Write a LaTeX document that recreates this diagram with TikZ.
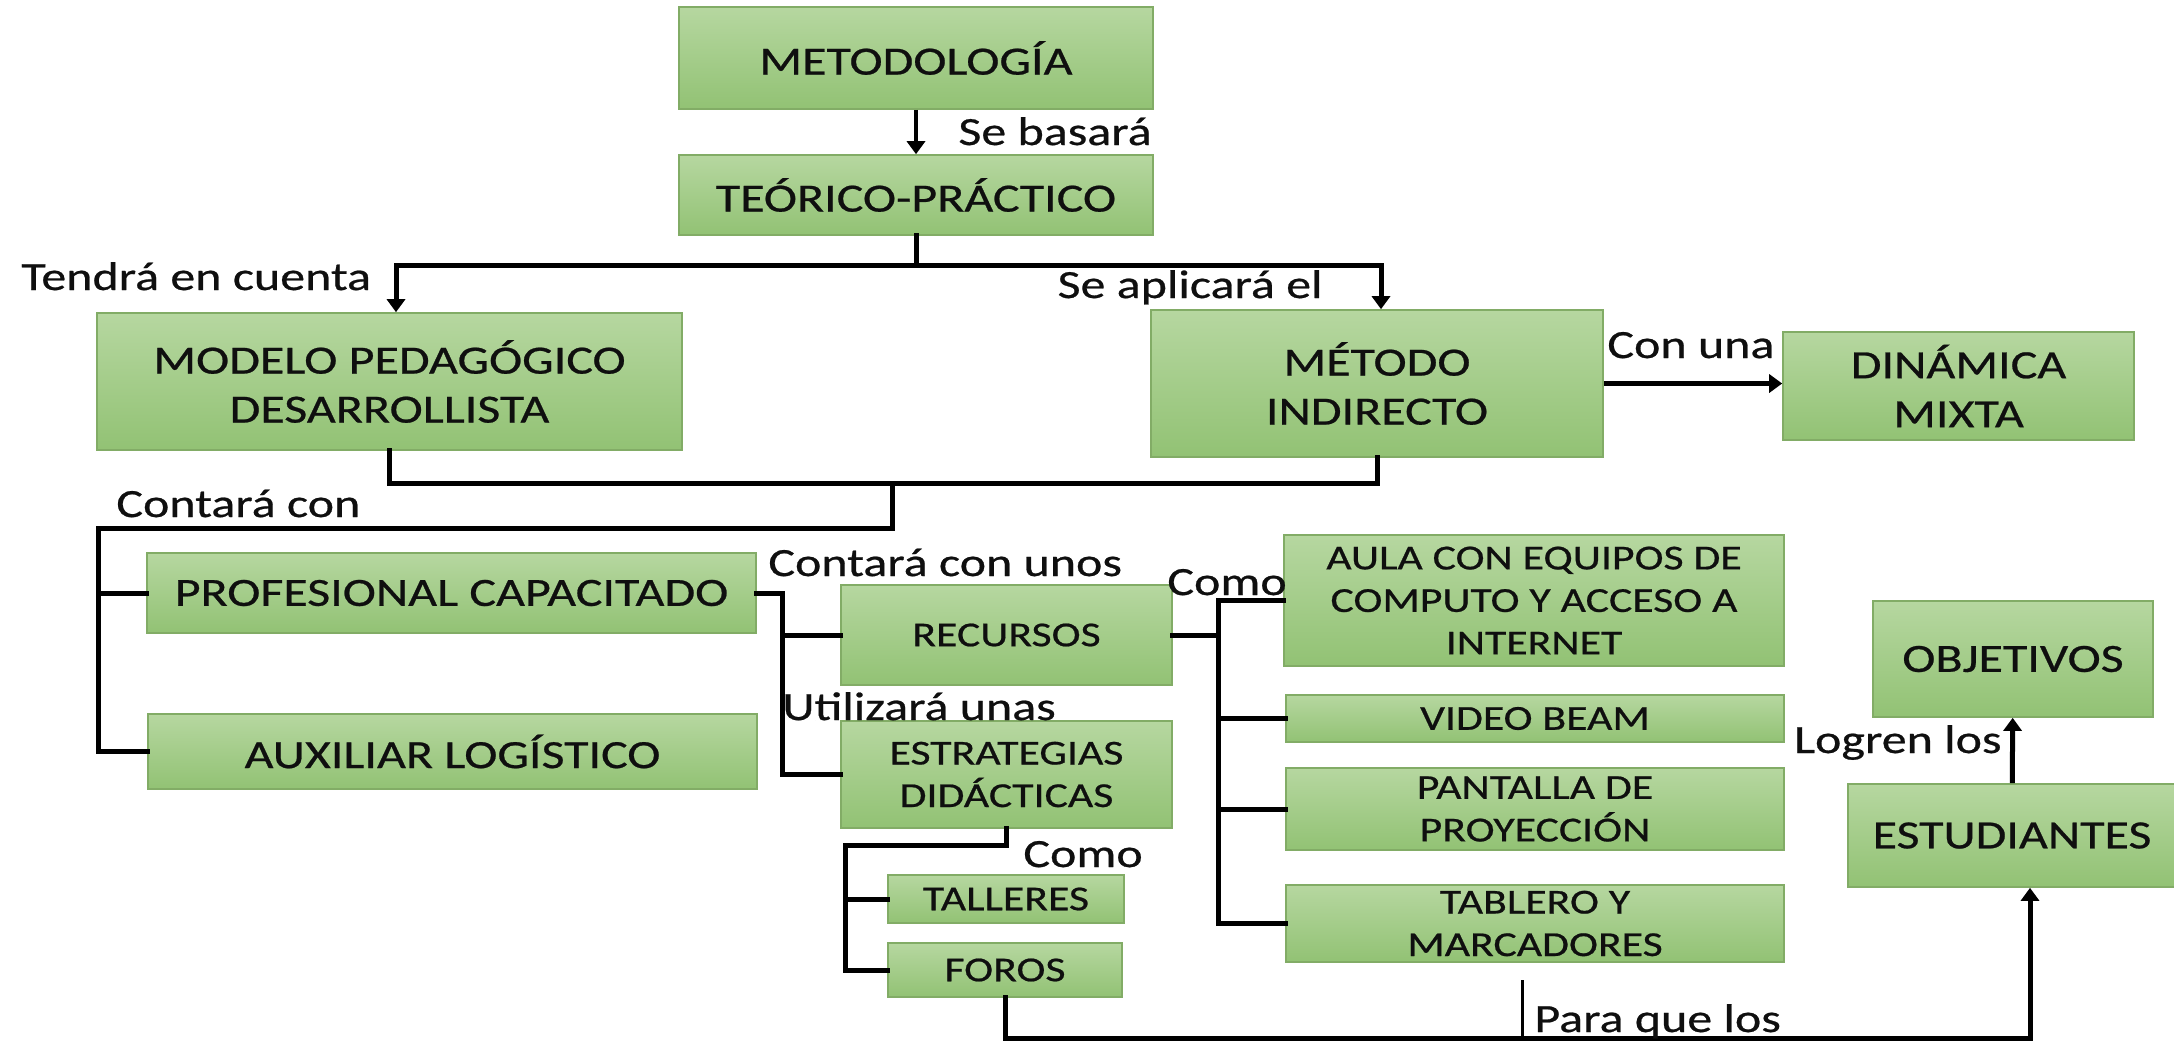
\documentclass[tikz,border=0pt]{standalone}
\usepackage{fontspec}
\setmainfont{Carlito}[FakeStretch=1.25,FakeBold=0.6]
\usetikzlibrary{arrows.meta}
\definecolor{boxtop}{RGB}{182,215,160}
\definecolor{boxbot}{RGB}{146,194,116}
\definecolor{boxedge}{RGB}{130,172,102}
\definecolor{ink}{RGB}{15,15,15}
\tikzset{
  box/.style={draw=boxedge, line width=0.8pt, top color=boxtop, bottom color=boxbot,
    inner sep=0pt, align=center, text=ink, rectangle},
  bigtxt/.style={font=\fontsize{20}{24.5}\selectfont},
  smalltxt/.style={font=\fontsize{17.5}{21.25}\selectfont},
  conn/.style={draw=black, line width=2.5pt, line cap=rect},
  thinconn/.style={draw=black, line width=1.5pt},
  arr/.style={-{Triangle[length=6.5pt,width=9pt]}, line cap=butt},
  lbl/.style={font=\fontsize{20}{22}\selectfont, inner sep=0pt, text=ink}
}
\begin{document}
\begin{tikzpicture}[x=0.5pt,y=-0.5pt]
\useasboundingbox (0,0) rectangle (2174,1041);
% boxes
\node[box,bigtxt,minimum width=237pt,minimum height=51pt] (meto) at (916,58) {METODOLOGÍA};
\node[box,bigtxt,minimum width=237pt,minimum height=40pt] (teo) at (916,195) {TEÓRICO-PRÁCTICO};
\node[box,bigtxt,minimum width=292.5pt,minimum height=68.5pt] (modelo) at (389.5,381.5) {MODELO PEDAGÓGICO\\DESARROLLISTA};
\node[box,bigtxt,minimum width=226pt,minimum height=73.5pt] (metodo) at (1377,383.5) {MÉTODO\\INDIRECTO};
\node[box,bigtxt,minimum width=175.5pt,minimum height=54pt] (dinamica) at (1958.5,386) {DINÁMICA\\MIXTA};
\node[box,bigtxt,minimum width=304.5pt,minimum height=40pt] (prof) at (451.5,593) {PROFESIONAL CAPACITADO};
\node[box,bigtxt,minimum width=304.5pt,minimum height=37.5pt] (aux) at (452.5,751.5) {AUXILIAR LOGÍSTICO};
\node[box,smalltxt,minimum width=165.5pt,minimum height=50pt] (recursos) at (1006.5,635) {RECURSOS};
\node[box,smalltxt,minimum width=165.5pt,minimum height=53.5pt] (estrategias) at (1006.5,774.5) {ESTRATEGIAS\\DIDÁCTICAS};
\node[box,smalltxt,minimum width=118pt,minimum height=24pt] (talleres) at (1006,899) {TALLERES};
\node[box,smalltxt,minimum width=117pt,minimum height=27pt] (foros) at (1005,970) {FOROS};
\node[box,smalltxt,minimum width=250pt,minimum height=65.5pt] (aula) at (1534,600.5) {AULA CON EQUIPOS DE\\COMPUTO Y ACCESO A\\INTERNET};
\node[box,smalltxt,minimum width=249pt,minimum height=23.5pt] (video) at (1535,718.5) {VIDEO BEAM};
\node[box,smalltxt,minimum width=249pt,minimum height=41pt] (pantalla) at (1535,809) {PANTALLA DE\\PROYECCIÓN};
\node[box,smalltxt,minimum width=249pt,minimum height=38.5pt] (tablero) at (1535,923.5) {TABLERO Y\\MARCADORES};
\node[box,bigtxt,minimum width=140pt,minimum height=58pt] (objetivos) at (2013,659) {OBJETIVOS};
\node[box,bigtxt,minimum width=164pt,minimum height=51.5pt] (estudiantes) at (2012,835.5) {ESTUDIANTES};

% coordinates
\coordinate (busL) at (396,265);
\coordinate (busR) at (1381,265);
\coordinate (joinA) at (892,483);
\coordinate (trunk) at (98,528);
\coordinate (profR) at (782,593);
\coordinate (recR) at (1218,600);
\coordinate (estB) at (845,845);
\coordinate (bottomR) at (2030,1038);
\coordinate (stubT) at (1522,980);

% connectors
\draw[conn,arr,line width=1.8pt] (meto) -- (teo);
\draw[conn] (teo.south) -- (teo.south |- busL);
\draw[conn] (busL) -- (busR);
\draw[conn,arr] (busL) -- (busL |- modelo.north);
\draw[conn,arr] (busR) -- (busR |- metodo.north);
\draw[conn] (modelo.south) -- (modelo.south |- joinA) -| (metodo.south);
\draw[conn] (joinA) -- (joinA |- trunk) -- (trunk) -- (trunk |- aux.west);
\draw[conn] (trunk |- prof.west) -- (prof.west);
\draw[conn] (trunk |- aux.west) -- (aux.west);
\draw[conn,arr] (metodo.east) -- (metodo.east -| dinamica.west);
\draw[conn] (prof.east) -- (profR) -- (profR |- estrategias.west) -- (estrategias.west);
\draw[conn] (profR |- recursos.west) -- (recursos.west);
\draw[conn] (recursos.east) -- (recursos.east -| recR);
\draw[conn] (recR) -- (recR |- tablero.west) -- (tablero.west);
\draw[conn] (recR) -- (recR -| aula.west);
\draw[conn] (recR |- video.west) -- (video.west);
\draw[conn] (recR |- pantalla.west) -- (pantalla.west);
\draw[conn] (estrategias.south) -- (estrategias.south |- estB) -- (estB) -- (estB |- foros.west) -- (foros.west);
\draw[conn] (estB |- talleres.west) -- (talleres.west);
\draw[conn] (foros.south) -- (foros.south |- bottomR) -- (bottomR);
\draw[conn,arr] (bottomR) -- (bottomR |- estudiantes.south);
\draw[thinconn] (stubT) -- (stubT |- bottomR);
\draw[conn,arr] (estudiantes) -- (objetivos);

% labels
\node[lbl,anchor=base west] (l1) at (958,145) {Se basará};
\node[lbl,anchor=base west] (l2) at (21,290) {Tendrá en cuenta};
\node[lbl,anchor=base east] (l3) at (1323,298) {Se aplicará el};
\node[lbl,anchor=base west] (l4) at (1607,358) {Con una};
\node[lbl,anchor=base west] (l5) at (116,517) {Contará con};
\node[lbl,anchor=base west] (l6) at (768,576) {Contará con unos};
\node[lbl,anchor=base west] (l7) at (1167,595) {Como};
\node[lbl,anchor=base west] (l8) at (782,720) {Utilizará unas};
\node[lbl,anchor=base west] (l9) at (1023,867) {Como};
\node[lbl,anchor=base east] (l10) at (2002,753) {Logren los};
\node[lbl,anchor=base west] (l11) at (1534,1032) {Para que los};
\end{tikzpicture}
\end{document}
